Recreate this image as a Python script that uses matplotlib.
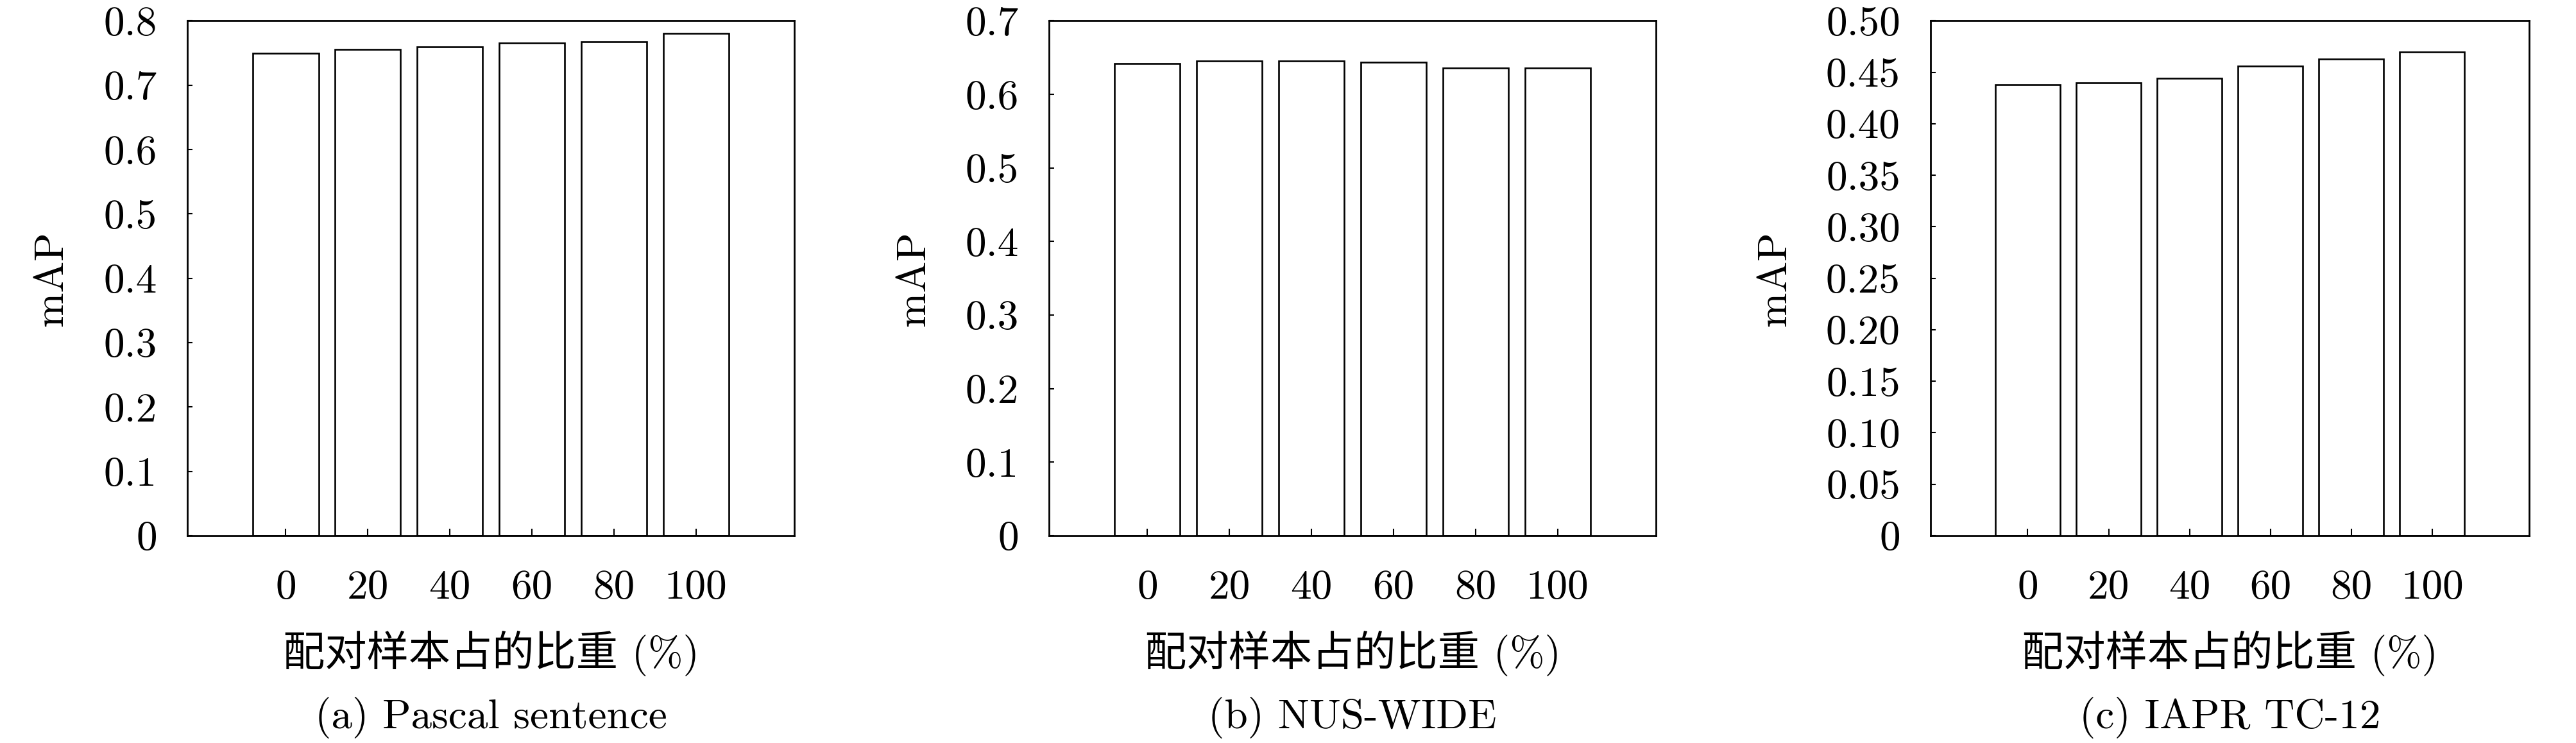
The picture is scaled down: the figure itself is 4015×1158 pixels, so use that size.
import numpy as np
import matplotlib
matplotlib.use("Agg")
import matplotlib.pyplot as plt

# data
ratios = ["0", "20", "40", "60", "80", "100"]
pascal_map = [0.750, 0.756, 0.760, 0.766, 0.768, 0.780]
nuswide_map = [0.642, 0.645, 0.645, 0.644, 0.636, 0.636]
iapr_map = [0.438, 0.440, 0.444, 0.456, 0.463, 0.470]

pascal_yticks = [0, 0.1, 0.2, 0.3, 0.4, 0.5, 0.6, 0.7, 0.8]
pascal_ylabels = ["0", "0.1", "0.2", "0.3", "0.4", "0.5", "0.6", "0.7", "0.8"]
nuswide_yticks = [0, 0.1, 0.2, 0.3, 0.4, 0.5, 0.6, 0.7]
nuswide_ylabels = ["0", "0.1", "0.2", "0.3", "0.4", "0.5", "0.6", "0.7"]
iapr_yticks = [0, 0.05, 0.10, 0.15, 0.20, 0.25, 0.30, 0.35, 0.40, 0.45, 0.50]
iapr_ylabels = ["0", "0.05", "0.10", "0.15", "0.20", "0.25", "0.30",
                "0.35", "0.40", "0.45", "0.50"]

captions = ["(a) Pascal sentence", "(b) NUS-WIDE", "(c) IAPR TC-12"]
xlabel = "配对样本占的比重 (%)"

plt.rcParams['font.family'] = ['cmr10', 'Noto Sans CJK SC', 'DejaVu Serif']
plt.rcParams['font.size'] = 47
plt.rcParams['axes.unicode_minus'] = False

fig = plt.figure(figsize=(40.16, 11.58), dpi=100)

panels = [
    (pascal_map, pascal_yticks, pascal_ylabels, 0.0727, 0.2356, -0.192),
    (nuswide_map, nuswide_yticks, nuswide_ylabels, 0.4071, 0.2356, -0.191),
    (iapr_map, iapr_yticks, iapr_ylabels, 0.7493, 0.2323, -0.229),
]

x = np.arange(len(ratios))
for i, (vals, yt, yl, left, width, ylab_x) in enumerate(panels):
    ax = fig.add_axes([left, 0.279, width, 0.693])
    ax.bar(x, vals, width=0.8, color="white", edgecolor="black", linewidth=1.9)
    ax.set_xlim(-1.2, 6.2)
    ax.set_ylim(yt[0], yt[-1])
    ax.set_xticks(x)
    ax.set_xticklabels(ratios)
    ax.set_yticks(yt)
    ax.set_yticklabels(yl)
    ax.tick_params(axis="x", direction="in", length=8, width=1.5, pad=38)
    ax.tick_params(axis="y", direction="in", length=6, width=1.5, pad=34)
    for s in ax.spines.values():
        s.set_linewidth(2.0)
    ax.set_ylabel("mAP")
    ax.yaxis.set_label_coords(ylab_x, 0.5)
    ax.text(0.5, -0.229, xlabel, transform=ax.transAxes,
            ha="center", va="center")
    ax.text(0.5, -0.353, captions[i], transform=ax.transAxes,
            ha="center", va="center")

fig.savefig("out.png", dpi=100)
